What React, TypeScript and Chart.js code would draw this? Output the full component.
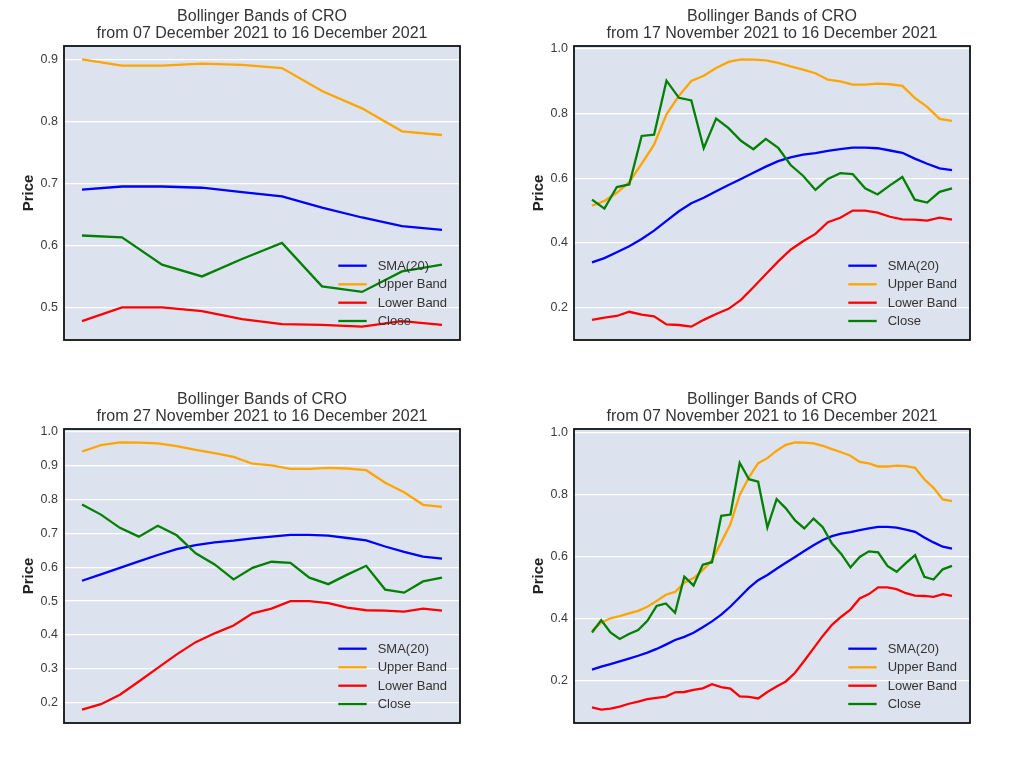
import { useEffect, useRef } from "react";
import { Chart, registerables } from "chart.js";

Chart.register(...registerables);

// Daily values, 07 Nov 2021 .. 16 Dec 2021 (40 days)
const sma20 = [
  0.234, 0.244, 0.252, 0.261, 0.270, 0.279, 0.289, 0.301, 0.315, 0.330,
  0.340, 0.353, 0.371, 0.390, 0.412, 0.438, 0.468, 0.498, 0.523, 0.540,
  0.560, 0.579, 0.598, 0.617, 0.636, 0.653, 0.665, 0.673, 0.678, 0.685,
  0.690, 0.695, 0.695, 0.693, 0.686, 0.679, 0.661, 0.645, 0.631, 0.625,
];
const upperBand = [
  0.360, 0.386, 0.400, 0.407, 0.416, 0.424, 0.437, 0.456, 0.476, 0.485,
  0.515, 0.530, 0.555, 0.588, 0.645, 0.704, 0.798, 0.855, 0.901, 0.917,
  0.941, 0.960, 0.968, 0.967, 0.965, 0.957, 0.946, 0.936, 0.925, 0.905,
  0.900, 0.890, 0.890, 0.893, 0.891, 0.886, 0.849, 0.821, 0.784, 0.778,
];
const lowerBand = [
  0.112, 0.105, 0.108, 0.115, 0.124, 0.131, 0.139, 0.143, 0.147, 0.161,
  0.162, 0.169, 0.174, 0.187, 0.178, 0.173, 0.148, 0.146, 0.141, 0.162,
  0.180, 0.196, 0.224, 0.263, 0.303, 0.343, 0.379, 0.405, 0.428, 0.464,
  0.478, 0.500, 0.500, 0.494, 0.481, 0.473, 0.472, 0.469, 0.478, 0.472,
];
const closePrices = [
  0.354, 0.394, 0.354, 0.333, 0.349, 0.362, 0.392, 0.440, 0.448, 0.418,
  0.534, 0.506, 0.573, 0.581, 0.731, 0.735, 0.902, 0.849, 0.841, 0.693,
  0.785, 0.755, 0.716, 0.690, 0.722, 0.694, 0.641, 0.608, 0.564, 0.598,
  0.616, 0.613, 0.569, 0.550, 0.578, 0.604, 0.534, 0.525, 0.558, 0.569,
];

const panelDays = [10, 30, 20, 40];
const panelStart = ["07 December 2021", "17 November 2021", "27 November 2021", "07 November 2021"];
const endLabel = "16 December 2021";
const panelTicks = [
  [0.5, 0.6, 0.7, 0.8, 0.9],
  [0.2, 0.4, 0.6, 0.8, 1.0],
  [0.2, 0.3, 0.4, 0.5, 0.6, 0.7, 0.8, 0.9, 1.0],
  [0.2, 0.4, 0.6, 0.8, 1.0],
];
const seriesNames = ["SMA(20)", "Upper Band", "Lower Band", "Close"];
const seriesColors = ["#0000ff", "#ffa500", "#ff0000", "#008000"];
const allSeries = [sma20, upperBand, lowerBand, closePrices];

const FONT = "'Liberation Sans', Arial, sans-serif";
const TEXT = "#333333";

function Panel({ idx, left, top }: { idx: number; left: number; top: number }) {
  const ref = useRef<HTMLCanvasElement | null>(null);
  useEffect(() => {
    const n = panelDays[idx];
    const series = allSeries.map((s) => s.slice(s.length - n));
    const flat = series.flat();
    const lo = Math.min(...flat);
    const hi = Math.max(...flat);
    const pad = (hi - lo) * 0.05;
    const ticks = panelTicks[idx];
    const title1 = "Bollinger Bands of CRO";
    const title2 = `from ${panelStart[idx]} to ${endLabel}`;

    const deco = {
      id: "deco",
      beforeDraw(chart: any) {
        const { ctx, chartArea: a } = chart;
        ctx.save();
        ctx.fillStyle = "#dde3ee";
        ctx.fillRect(a.left, a.top, a.right - a.left, a.bottom - a.top);
        ctx.restore();
      },
      afterDraw(chart: any) {
        const { ctx, chartArea: a } = chart;
        ctx.save();
        // titles
        ctx.fillStyle = TEXT;
        ctx.font = `16px ${FONT}`;
        ctx.textAlign = "center";
        ctx.textBaseline = "middle";
        const cx = (a.left + a.right) / 2;
        ctx.fillText(title1, cx, 17);
        ctx.fillText(title2, cx, 34);
        // legend
        ctx.font = `13px ${FONT}`;
        ctx.textAlign = "left";
        const rows = [74.3, 55.7, 37.3, 19];
        seriesNames.forEach((name, i) => {
          const y = a.bottom - rows[i];
          ctx.strokeStyle = seriesColors[i];
          ctx.lineWidth = 2.3;
          ctx.beginPath();
          ctx.moveTo(a.right - 121.7, y);
          ctx.lineTo(a.right - 93.3, y);
          ctx.stroke();
          ctx.fillStyle = TEXT;
          ctx.fillText(name, a.right - 82.3, y + 0.5);
        });
        // frame
        ctx.strokeStyle = "#111111";
        ctx.lineWidth = 1.8;
        ctx.strokeRect(a.left, a.top, a.right - a.left, a.bottom - a.top);
        ctx.restore();
      },
    };

    const chart = new Chart(ref.current as HTMLCanvasElement, {
      type: "line",
      data: {
        datasets: series.map((vals, si) => ({
          label: seriesNames[si],
          data: vals.map((v, i) => ({ x: i, y: v })),
          borderColor: seriesColors[si],
          backgroundColor: seriesColors[si],
          borderWidth: 2.3,
          pointRadius: 0,
          tension: 0,
          fill: false,
          order: 3 - si,
        })),
      },
      options: {
        animation: false,
        responsive: false,
        maintainAspectRatio: false,
        layout: { padding: { top: 46, right: 40, bottom: 20, left: 0 } },
        plugins: {
          legend: { display: false },
          title: { display: false },
          tooltip: { enabled: false },
        },
        scales: {
          x: {
            type: "linear",
            display: false,
            min: -0.05 * (n - 1),
            max: 1.05 * (n - 1),
          },
          y: {
            type: "linear",
            min: lo - pad,
            max: hi + pad,
            afterFit: (scale: any) => {
              scale.width = 64;
            },
            afterBuildTicks: (scale: any) => {
              scale.ticks = ticks.map((v) => ({ value: v }));
            },
            border: { display: false },
            grid: { color: "#ffffff", lineWidth: 1.2, drawTicks: false },
            ticks: {
              padding: 6,
              color: "#3a3a3a",
              font: { family: FONT, size: 12.5 },
              callback: (v: any) => Number(v).toFixed(1),
            },
            title: {
              display: true,
              text: "Price",
              color: "#222222",
              font: { family: FONT, size: 15, weight: "bold" },
              padding: { top: 20, bottom: 0 },
            },
          },
        },
      } as any,
      plugins: [deco],
    });
    return () => chart.destroy();
  }, [idx]);

  return (
    <canvas
      ref={ref}
      width={500}
      height={360}
      style={{ position: "absolute", left, top, width: 500, height: 360 }}
    />
  );
}

export default function App() {
  return (
    <div
      style={{
        position: "absolute",
        left: 0,
        top: 0,
        width: 1021,
        height: 766,
        background: "#ffffff",
        overflow: "hidden",
      }}
    >
      <Panel idx={0} left={0} top={0} />
      <Panel idx={1} left={510} top={0} />
      <Panel idx={2} left={0} top={383} />
      <Panel idx={3} left={510} top={383} />
    </div>
  );
}
